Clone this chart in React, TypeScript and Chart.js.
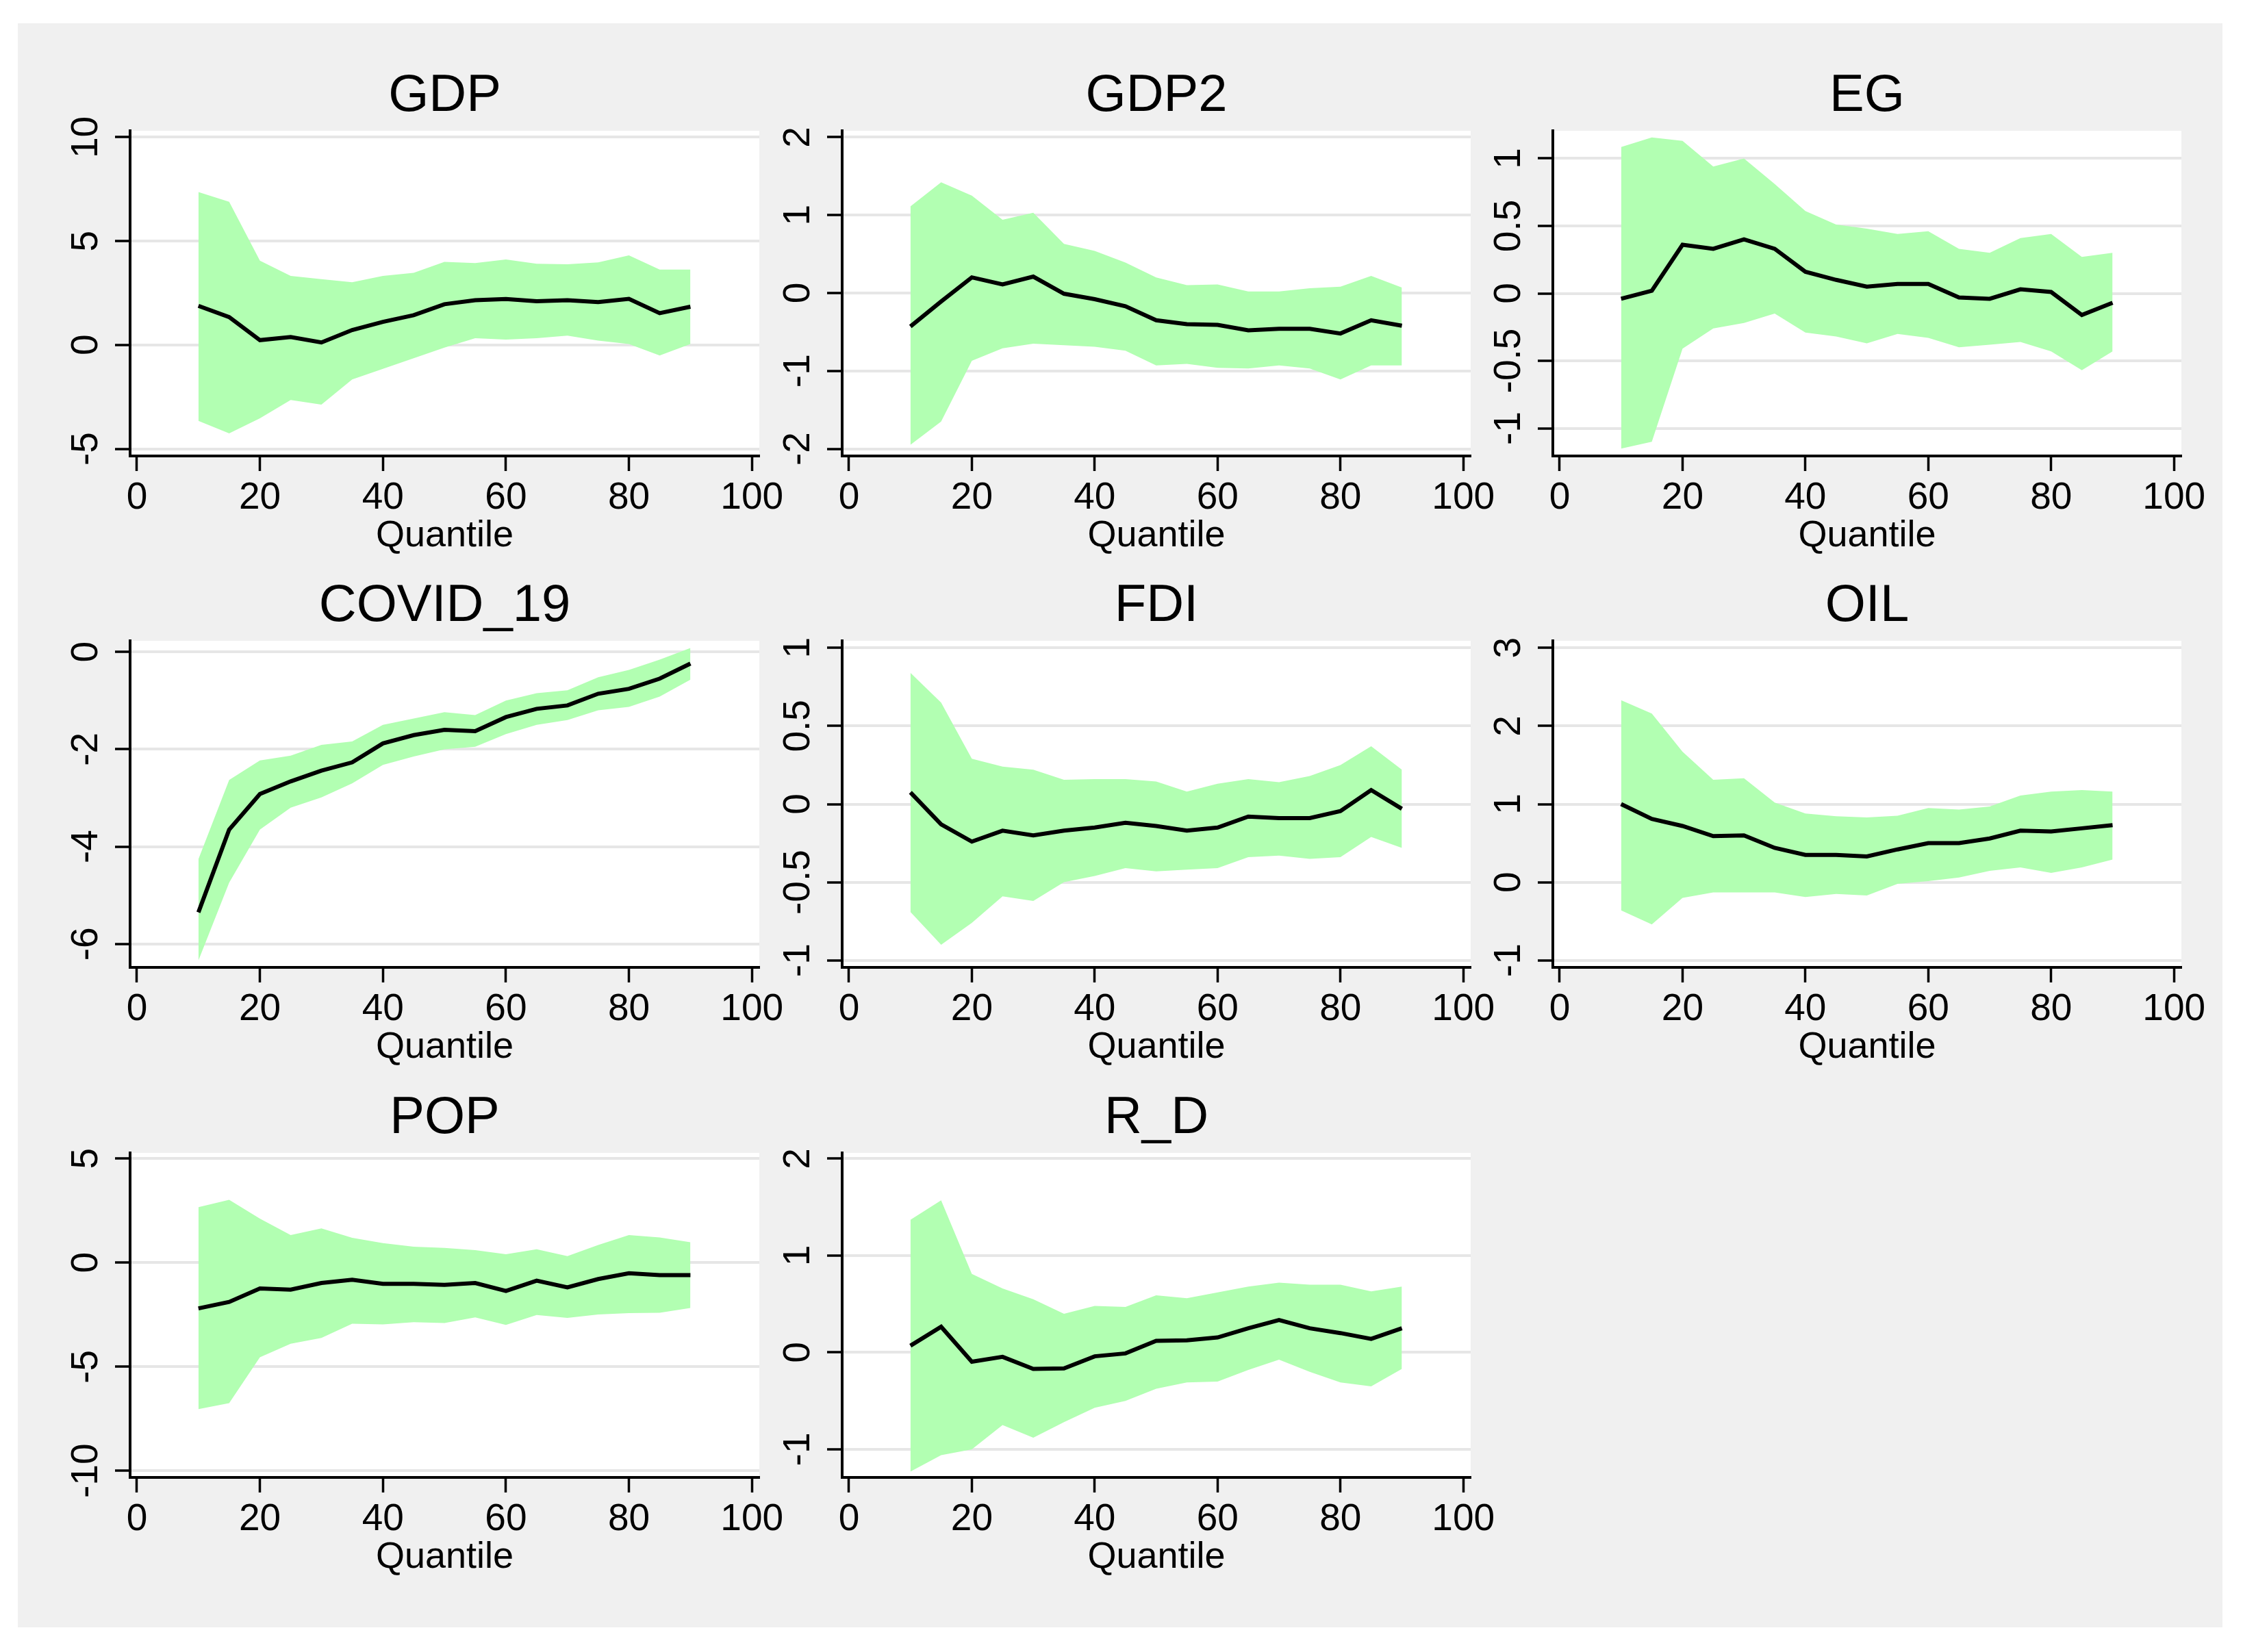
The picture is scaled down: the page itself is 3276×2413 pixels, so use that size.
import React, { useEffect, useRef } from "react";
import { Chart, registerables } from "chart.js";

Chart.register(...registerables);

const FONT = '"Liberation Sans", Arial, Helvetica, sans-serif';
Chart.defaults.font.family = FONT;

// ---------------- data ----------------
const quantiles = [10, 15, 20, 25, 30, 35, 40, 45, 50, 55, 60, 65, 70, 75, 80, 85, 90];
const xTickValues = [0, 20, 40, 60, 80, 100];

const gdpEst = [1.88, 1.34, 0.23, 0.38, 0.12, 0.72, 1.11, 1.43, 1.96, 2.15, 2.21, 2.1, 2.15, 2.06, 2.22, 1.53, 1.84];
const gdpUpper = [7.36, 6.89, 4.06, 3.32, 3.17, 3.02, 3.32, 3.47, 4.0, 3.94, 4.11, 3.91, 3.88, 3.97, 4.31, 3.63, 3.63];
const gdpLower = [-3.66, -4.26, -3.53, -2.65, -2.87, -1.66, -1.15, -0.64, -0.13, 0.32, 0.26, 0.32, 0.45, 0.21, 0.04, -0.51, 0.04];
const gdpTicks = [-5, 0, 5, 10];
const gdpTickLabels = ["-5", "0", "5", "10"];

const gdp2Est = [-0.43, -0.11, 0.2, 0.11, 0.21, -0.01, -0.08, -0.17, -0.35, -0.4, -0.41, -0.48, -0.46, -0.46, -0.52, -0.35, -0.42];
const gdp2Upper = [1.11, 1.42, 1.25, 0.94, 1.03, 0.63, 0.54, 0.39, 0.2, 0.1, 0.11, 0.02, 0.02, 0.06, 0.08, 0.22, 0.07];
const gdp2Lower = [-1.95, -1.65, -0.87, -0.71, -0.65, -0.67, -0.69, -0.74, -0.93, -0.91, -0.96, -0.97, -0.93, -0.97, -1.11, -0.93, -0.93];
const gdp2Ticks = [-2, -1, 0, 1, 2];
const gdp2TickLabels = ["-2", "-1", "0", "1", "2"];

const egEst = [-0.04, 0.02, 0.36, 0.33, 0.4, 0.33, 0.16, 0.1, 0.05, 0.07, 0.07, -0.03, -0.04, 0.03, 0.01, -0.16, -0.07];
const egUpper = [1.085, 1.155, 1.13, 0.94, 1.0, 0.81, 0.61, 0.51, 0.48, 0.44, 0.46, 0.33, 0.3, 0.41, 0.44, 0.27, 0.3];
const egLower = [-1.15, -1.1, -0.41, -0.26, -0.22, -0.15, -0.29, -0.32, -0.37, -0.3, -0.33, -0.4, -0.38, -0.36, -0.43, -0.57, -0.43];
const egTicks = [-1, -0.5, 0, 0.5, 1];
const egTickLabels = ["-1", "-0.5", "0", "0.5", "1"];

const covidEst = [-5.35, -3.65, -2.92, -2.66, -2.44, -2.27, -1.88, -1.71, -1.6, -1.63, -1.34, -1.17, -1.1, -0.86, -0.76, -0.55, -0.24];
const covidUpper = [-4.26, -2.63, -2.23, -2.13, -1.91, -1.84, -1.5, -1.37, -1.24, -1.3, -1.0, -0.85, -0.79, -0.52, -0.37, -0.16, 0.08];
const covidLower = [-6.34, -4.74, -3.65, -3.2, -2.99, -2.7, -2.32, -2.15, -2.0, -1.95, -1.69, -1.5, -1.4, -1.2, -1.13, -0.92, -0.57];
const covidTicks = [-6, -4, -2, 0];
const covidTickLabels = ["-6", "-4", "-2", "0"];

const fdiEst = [0.075, -0.13, -0.24, -0.17, -0.2, -0.17, -0.15, -0.12, -0.14, -0.17, -0.15, -0.08, -0.09, -0.09, -0.045, 0.09, -0.03];
const fdiUpper = [0.84, 0.65, 0.29, 0.24, 0.22, 0.155, 0.16, 0.16, 0.145, 0.08, 0.13, 0.16, 0.14, 0.18, 0.25, 0.37, 0.22];
const fdiLower = [-0.69, -0.9, -0.76, -0.59, -0.62, -0.5, -0.46, -0.41, -0.43, -0.42, -0.41, -0.34, -0.33, -0.35, -0.34, -0.21, -0.28];
const fdiTicks = [-1, -0.5, 0, 0.5, 1];
const fdiTickLabels = ["-1", "-0.5", "0", "0.5", "1"];

const oilEst = [1.0, 0.81, 0.72, 0.59, 0.6, 0.44, 0.35, 0.35, 0.33, 0.42, 0.5, 0.5, 0.56, 0.66, 0.65, 0.69, 0.73];
const oilUpper = [2.33, 2.16, 1.67, 1.31, 1.33, 1.02, 0.88, 0.845, 0.83, 0.85, 0.95, 0.93, 0.97, 1.11, 1.16, 1.18, 1.16];
const oilLower = [-0.36, -0.54, -0.2, -0.13, -0.13, -0.13, -0.19, -0.15, -0.17, -0.02, 0.015, 0.06, 0.145, 0.19, 0.12, 0.19, 0.29];
const oilTicks = [-1, 0, 1, 2, 3];
const oilTickLabels = ["-1", "0", "1", "2", "3"];

const popEst = [-2.2, -1.89, -1.24, -1.3, -0.98, -0.82, -1.02, -1.02, -1.07, -0.98, -1.36, -0.87, -1.19, -0.79, -0.51, -0.6, -0.6];
const popUpper = [2.66, 3.02, 2.11, 1.32, 1.64, 1.19, 0.94, 0.76, 0.71, 0.6, 0.4, 0.64, 0.31, 0.85, 1.32, 1.21, 0.98];
const popLower = [-7.04, -6.75, -4.55, -3.9, -3.62, -2.94, -2.97, -2.86, -2.9, -2.63, -2.99, -2.52, -2.66, -2.49, -2.43, -2.41, -2.18];
const popTicks = [-10, -5, 0, 5];
const popTickLabels = ["-10", "-5", "0", "5"];

const rdEst = [0.07, 0.265, -0.095, -0.045, -0.17, -0.165, -0.04, -0.01, 0.12, 0.125, 0.155, 0.25, 0.335, 0.25, 0.2, 0.14, 0.25];
const rdUpper = [1.37, 1.57, 0.81, 0.66, 0.55, 0.4, 0.48, 0.47, 0.59, 0.56, 0.62, 0.68, 0.72, 0.7, 0.7, 0.63, 0.68];
const rdLower = [-1.23, -1.06, -1.0, -0.75, -0.88, -0.72, -0.57, -0.5, -0.375, -0.31, -0.3, -0.18, -0.075, -0.2, -0.31, -0.35, -0.17];
const rdTicks = [-1, 0, 1, 2];
const rdTickLabels = ["-1", "0", "1", "2"];

// ---------------- panels ----------------
type PanelDef = {
  name: string;
  est: number[];
  upper: number[];
  lower: number[];
  ticks: number[];
  tickLabels: string[];
  yMin: number;
  yMax: number;
  col: number;
  row: number;
};

const panels: PanelDef[] = [
  { name: "GDP", est: gdpEst, upper: gdpUpper, lower: gdpLower, ticks: gdpTicks, tickLabels: gdpTickLabels, yMin: -5.345, yMax: 10.31, col: 0, row: 0 },
  { name: "GDP2", est: gdp2Est, upper: gdp2Upper, lower: gdp2Lower, ticks: gdp2Ticks, tickLabels: gdp2TickLabels, yMin: -2.092, yMax: 2.082, col: 1, row: 0 },
  { name: "EG", est: egEst, upper: egUpper, lower: egLower, ticks: egTicks, tickLabels: egTickLabels, yMin: -1.205, yMax: 1.205, col: 2, row: 0 },
  { name: "COVID_19", est: covidEst, upper: covidUpper, lower: covidLower, ticks: covidTicks, tickLabels: covidTickLabels, yMin: -6.48, yMax: 0.227, col: 0, row: 1 },
  { name: "FDI", est: fdiEst, upper: fdiUpper, lower: fdiLower, ticks: fdiTicks, tickLabels: fdiTickLabels, yMin: -1.045, yMax: 1.045, col: 1, row: 1 },
  { name: "OIL", est: oilEst, upper: oilUpper, lower: oilLower, ticks: oilTicks, tickLabels: oilTickLabels, yMin: -1.09, yMax: 3.09, col: 2, row: 1 },
  { name: "POP", est: popEst, upper: popUpper, lower: popLower, ticks: popTicks, tickLabels: popTickLabels, yMin: -10.32, yMax: 5.27, col: 0, row: 2 },
  { name: "R_D", est: rdEst, upper: rdUpper, lower: rdLower, ticks: rdTicks, tickLabels: rdTickLabels, yMin: -1.29, yMax: 2.06, col: 1, row: 2 },
];

// layout (page pixels)
const COLS = [
  { L: 190, R: 1109 },
  { L: 1230, R: 2148 },
  { L: 2268, R: 3186 },
];
const ROWS = [
  { T: 191, B: 666 },
  { T: 936, B: 1413 },
  { T: 1684, B: 2158 },
];
const LEFT_SPACE = 140;
const RIGHT_SPACE = 60;
const TOP_SPACE = 160;
const BOTTOM_SPACE = 150;

const TITLE_SIZE = 76;
const TICK_SIZE = 55;
const AXIS_TITLE_SIZE = 54;

const GREEN = "rgb(178,255,178)";

const plotBackground = {
  id: "plotBackground",
  beforeDraw(chart: any) {
    const { ctx, chartArea } = chart;
    if (!chartArea) return;
    ctx.save();
    ctx.fillStyle = "#ffffff";
    ctx.fillRect(chartArea.left, chartArea.top, chartArea.right - chartArea.left, chartArea.bottom - chartArea.top);
    ctx.restore();
  },
};

const yLabels = {
  id: "yLabels",
  afterDraw(chart: any, _args: any, opts: any) {
    const s = chart.scales.y;
    const ctx = chart.ctx;
    const labels: string[] = opts.labels || [];
    ctx.save();
    ctx.font = `${TICK_SIZE}px ${FONT}`;
    ctx.fillStyle = "#000";
    ctx.textAlign = "center";
    ctx.textBaseline = "middle";
    s.ticks.forEach((t: any, i: number) => {
      const y = s.getPixelForValue(t.value);
      ctx.save();
      ctx.translate(chart.chartArea.left - 63, y);
      ctx.rotate(-Math.PI / 2);
      ctx.fillText(labels[i] ?? String(t.value), 0, 0);
      ctx.restore();
    });
    ctx.restore();
  },
};

function Panel({ p }: { p: PanelDef }) {
  const ref = useRef<HTMLCanvasElement | null>(null);
  const c = COLS[p.col];
  const r = ROWS[p.row];
  const w = LEFT_SPACE + (c.R - c.L) + RIGHT_SPACE;
  const h = TOP_SPACE + (r.B - r.T) + BOTTOM_SPACE;

  useEffect(() => {
    if (!ref.current) return;
    const pts = (arr: number[]) => quantiles.map((q, i) => ({ x: q, y: arr[i] }));
    const chart = new Chart(ref.current, {
      type: "line",
      data: {
        datasets: [
          {
            label: "Estimate",
            data: pts(p.est),
            borderColor: "#000000",
            borderWidth: 6,
            pointRadius: 0,
            tension: 0,
            fill: false,
            order: 0,
          },
          {
            label: "Lower",
            data: pts(p.lower),
            borderColor: "rgba(0,0,0,0)",
            borderWidth: 0,
            pointRadius: 0,
            tension: 0,
            fill: false,
            order: 1,
          },
          {
            label: "Upper",
            data: pts(p.upper),
            borderColor: "rgba(0,0,0,0)",
            borderWidth: 0,
            pointRadius: 0,
            tension: 0,
            fill: "-1",
            backgroundColor: GREEN,
            order: 2,
          },
        ],
      },
      options: {
        animation: false,
        responsive: false,
        devicePixelRatio: 1,
        events: [],
        layout: { padding: { left: 0, right: RIGHT_SPACE, top: 0, bottom: 0 } },
        plugins: {
          legend: { display: false },
          tooltip: { enabled: false },
          title: {
            display: true,
            text: p.name,
            fullSize: false,
            color: "#000",
            font: { size: TITLE_SIZE, family: FONT, weight: "normal", lineHeight: 1 },
            padding: { top: 110 - TITLE_SIZE / 2, bottom: TOP_SPACE - TITLE_SIZE - (110 - TITLE_SIZE / 2) },
          },
          yLabels: { labels: p.tickLabels },
        } as any,
        scales: {
          x: {
            type: "linear",
            min: -1.11,
            max: 101.2,
            afterBuildTicks: (s: any) => {
              s.ticks = xTickValues.map((v) => ({ value: v }));
            },
            afterFit: (s: any) => {
              s.height = BOTTOM_SPACE;
            },
            ticks: {
              color: "#000",
              font: { size: TICK_SIZE, family: FONT, lineHeight: 1 },
              padding: 62 - 22 - TICK_SIZE / 2,
              autoSkip: false,
              maxRotation: 0,
              minRotation: 0,
              callback: (v: any) => String(v),
            },
            grid: {
              display: true,
              drawOnChartArea: false,
              drawTicks: true,
              tickLength: 22,
              tickWidth: 3.5,
              tickColor: "#000",
            },
            border: { display: true, color: "#000", width: 4 },
            title: {
              display: true,
              text: "Quantile",
              color: "#000",
              font: { size: AXIS_TITLE_SIZE, family: FONT, lineHeight: 1 },
              padding: { top: 0, bottom: 33 - AXIS_TITLE_SIZE / 2 },
            },
          },
          y: {
            type: "linear",
            min: p.yMin,
            max: p.yMax,
            afterBuildTicks: (s: any) => {
              s.ticks = p.ticks.map((v) => ({ value: v }));
            },
            afterFit: (s: any) => {
              s.width = LEFT_SPACE;
            },
            ticks: { display: false },
            grid: {
              display: true,
              drawOnChartArea: true,
              drawTicks: true,
              color: "#e6e6e6",
              lineWidth: 4,
              tickLength: 22,
              tickWidth: 3.5,
              tickColor: "#000",
            },
            border: { display: true, color: "#000", width: 4 },
          },
        },
      } as any,
      plugins: [plotBackground, yLabels],
    });
    return () => chart.destroy();
  }, []);

  return (
    <canvas
      ref={ref}
      width={w}
      height={h}
      style={{
        position: "absolute",
        left: c.L - LEFT_SPACE,
        top: r.T - TOP_SPACE,
        width: w,
        height: h,
      }}
    />
  );
}

export default function App() {
  useEffect(() => {
    document.body.style.margin = "0";
    document.body.style.overflow = "hidden";
  }, []);
  return (
    <div
      style={{
        position: "absolute",
        left: 0,
        top: 0,
        width: 3276,
        height: 2413,
        background: "#ffffff",
        overflow: "hidden",
      }}
    >
      <div
        style={{
          position: "absolute",
          left: 26,
          top: 34,
          width: 3220,
          height: 2343,
          background: "#f0f0f0",
        }}
      />
      {panels.map((p) => (
        <Panel key={p.name} p={p} />
      ))}
    </div>
  );
}
